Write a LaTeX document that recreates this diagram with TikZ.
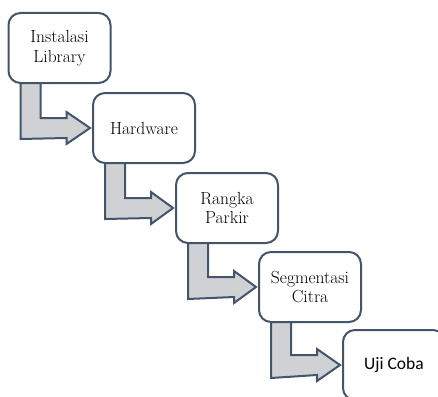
\documentclass[tikz,border=0pt]{standalone}
\usepackage{fontspec}
\newfontfamily\calibrifont{Carlito}
\usetikzlibrary{calc}
\pgfdeclarelayer{background}
\pgfsetlayers{background,main}
\definecolor{edgec}{HTML}{44546A}
\definecolor{arrowfill}{HTML}{D0D1D5}
\tikzset{
  stepbox/.style={draw=edgec, line width=2pt, fill=white, rounded corners=12pt,
    minimum width=102pt, minimum height=70pt, inner sep=0pt, align=center,
    font=\fontsize{17.5}{19.5}\selectfont},
  sansbox/.style={stepbox, font=\calibrifont\fontsize{17.5}{21}\selectfont},
  elbowarrow/.style={draw=edgec, line width=2pt, fill=arrowfill, line join=miter}
}
\newcommand\elbow[2]{%
  \coordinate (o) at (#1.south west);
  \coordinate (t) at ($(#2.west)+(-2,0)$);
  \draw[elbowarrow] ($(o)+(13,-3)$) -- ($(o)+(13,55)$) -- ($(o|-t)+(59,10)$)
    -- ($(o|-t)+(59,16)$) -- (t) -- ($(o|-t)+(59,-16)$) -- ($(o|-t)+(59,-10)$)
    -- ($(o|-t)+(33,-10)$) -- ($(o)+(33,-3)$) -- cycle;
}
\begin{document}
\begin{tikzpicture}[x=1pt,y=-1pt]
\useasboundingbox (0,0) rectangle (438,396);
\clip (0,0) rectangle (438,396);
\node[stepbox] (b1) at (59.5,48) {Instalasi\\Library};
\node[stepbox] (b2) at (144,128) {Hardware};
\node[stepbox] (b3) at (227,208) {Rangka\\Parkir};
\node[stepbox] (b4) at (310,287) {Segmentasi\\Citra};
\node[sansbox] (b5) at (394,365) {Uji Coba};
\begin{pgfonlayer}{background}
\elbow{b1}{b2}
\elbow{b2}{b3}
\elbow{b3}{b4}
\elbow{b4}{b5}
\end{pgfonlayer}
\end{tikzpicture}
\end{document}
